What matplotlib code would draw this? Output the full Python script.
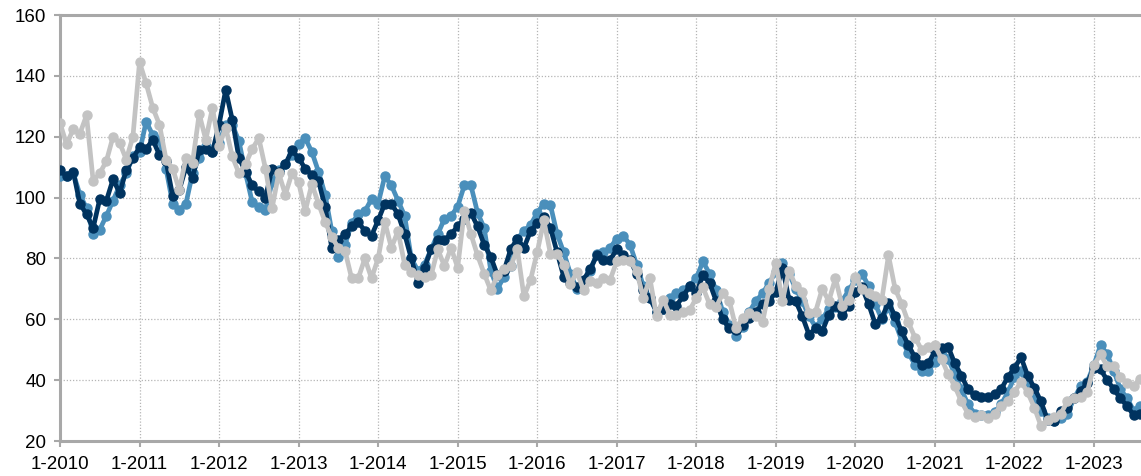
import matplotlib
matplotlib.use("Agg")
import matplotlib.pyplot as plt
import numpy as np

plt.rcParams['font.family'] = ['Liberation Sans', 'DejaVu Sans']

# monthly values, Jan 2010 .. Aug 2023
dark = [
    109, 107, 108.5, 98, 94.5, 90, 99.5, 99, 106, 101.5, 109, 113,
    116.5, 116, 119, 114, 112, 100.5, 102.5, 110, 106.5, 115.5, 116, 115,
    124, 135.4, 125.5, 113, 108.5, 104, 102, 100, 109.5, 108.5, 111, 115.5,
    113, 109.5, 107.5, 105.5, 97, 83.5, 86, 88, 90.5, 92, 89, 87.5,
    92.5, 98, 98, 94.5, 88, 80, 72, 77, 83, 86, 86, 88,
    90.5, 93, 95, 90.5, 84.5, 80.5, 74.5, 76, 83, 86.5, 83.5, 89,
    91.5, 93.5, 90, 82, 74, 72, 70.5, 73, 76.5, 81, 79.5, 79.5,
    83, 81, 79.5, 75, 69.5, 67, 62.5, 63.5, 65, 64.5, 67.5, 71,
    68.5, 74.5, 72, 66, 60, 57, 56.5, 58, 60.5, 62.5, 65, 66,
    69, 77, 66.5, 66, 61, 55, 57, 56, 61.5, 64.5, 61.5, 64.5,
    69, 70.5, 65, 58.5, 60.5, 65.5, 61, 56, 51.5, 47.5, 45, 45.5,
    49.5, 50.5, 51, 45.5, 41.5, 37, 35, 34.5, 34.5, 35.5, 37, 41,
    44, 47.5, 41.5, 37.5, 33, 27, 26.5, 30, 31, 34, 36.5, 39,
    44, 43.5, 40, 37, 34, 31.5, 28.5, 29,
]

light = [
    107, 107, 108, 101, 96.5, 88, 89.5, 94, 99, 104, 108, 113.5,
    115, 125, 120.5, 119, 109.5, 98, 96, 98, 108, 113, 117, 115,
    118, 124, 124, 118.5, 108, 98.5, 97, 96, 105, 109, 111, 114,
    117.5, 119.5, 115, 108.5, 101, 89, 80.5, 84.5, 91.5, 94.5, 95.5, 99.5,
    98, 107, 104, 99, 94, 80, 76, 78, 83, 88, 93, 94,
    97, 104, 104, 95, 90, 76, 70, 74, 77.5, 86.5, 89, 91,
    95, 98, 97.5, 88, 82, 75, 70, 72, 76, 81.5, 82, 83.5,
    86.5, 87.5, 84.5, 78, 71, 67, 62.5, 63.5, 67, 68.5, 69.5, 71,
    73.5, 79, 75, 69.5, 62.5, 58, 54.5, 57.5, 62.5, 66, 68.5, 72,
    75.5, 78.5, 75, 70, 66, 61, 57.5, 60, 63.5, 64, 66, 69.5,
    73, 75, 71, 65, 60, 64, 59, 53, 49, 45, 43, 43,
    46, 50, 47, 42, 37, 32, 29, 28.5, 28.5, 29.5, 32, 36,
    41, 43, 38, 34.5, 30, 27.5, 26.5, 27.5, 29, 34, 38, 39.5,
    45, 51.5, 48.5, 43, 37, 34, 30, 31.5,
]

grey = [
    124.5, 117.5, 122.5, 121, 127, 105.5, 108, 112, 120, 118, 112.5, 120,
    144.5, 137.5, 129.5, 124, 112.5, 109.5, 102.5, 113, 111.5, 127.5, 119, 129.5,
    117, 123, 113.5, 108, 111, 116, 119.5, 109.5, 96.5, 108, 101, 108,
    105, 95.5, 104.5, 98, 92, 87, 83.5, 82.5, 73.5, 73.5, 80, 73.5,
    80, 92, 83.5, 89, 78, 75.5, 74.5, 74, 74.5, 83, 77.5, 83.5,
    77, 95.5, 88, 81, 75, 69.5, 74.5, 76.5, 77.5, 83, 67.5, 73,
    82, 92.5, 81.5, 81.5, 78, 71.5, 75.5, 69.5, 72.5, 72, 73.5, 73,
    79, 79.5, 79, 76, 67, 73.5, 61, 66.5, 61.5, 61.5, 62.5, 63,
    67, 70.5, 65, 64, 68.5, 66, 57, 60.5, 62, 61, 59, 70,
    78.5, 66, 76, 71, 69, 62, 62.5, 70, 66, 73.5, 64.5, 66.5,
    74, 70, 68.5, 67.5, 66.5, 81, 70, 65, 59, 54, 50, 51,
    51.5, 47, 42, 38, 33, 29, 28, 28.5, 27.5, 29, 31.5, 33,
    36, 39.5, 36, 31, 25, 27, 28, 29, 33, 34, 34.5, 36,
    45, 48.5, 44.5, 44.5, 41, 39, 38, 40.5,
]

years = list(range(2010, 2024))
year_labels = ["1-%d" % y for y in years]

months = np.arange(len(dark))

fig = plt.figure(figsize=(11.41, 4.76), dpi=100)
ax = fig.add_axes([60 / 1141, 1 - 441 / 476, 1 - 60 / 1141, 426 / 476])

ax.plot(months, light, color='#4a8fbb', lw=3.4, marker='o', ms=6.5, zorder=3)
ax.plot(months, dark, color='#00335f', lw=3.4, marker='o', ms=6.5, zorder=4)
ax.plot(months, grey, color='#c3c3c3', lw=3.4, marker='o', ms=6.5, zorder=5)

ax.set_ylim(20, 160)
ax.set_xlim(0, 163.1)
ax.set_yticks(np.arange(20, 161, 20))
ax.set_xticks([12 * i for i in range(len(years))])
ax.set_xticklabels(year_labels)

ax.grid(True, color='#b5b5b5', linestyle=(0, (1, 1.5)), linewidth=0.9, zorder=0)
ax.set_axisbelow(True)

for s in ['left', 'bottom', 'top']:
    ax.spines[s].set_color('#a8a8a8')
    ax.spines[s].set_linewidth(2.2)
ax.spines['right'].set_visible(False)

ax.tick_params(axis='both', colors='#a8a8a8', length=4, width=1.5,
               labelcolor='black', labelsize=13.5)
ax.tick_params(axis='x', pad=7)
ax.tick_params(axis='y', pad=6)

fig.savefig('out.png', dpi=100)
